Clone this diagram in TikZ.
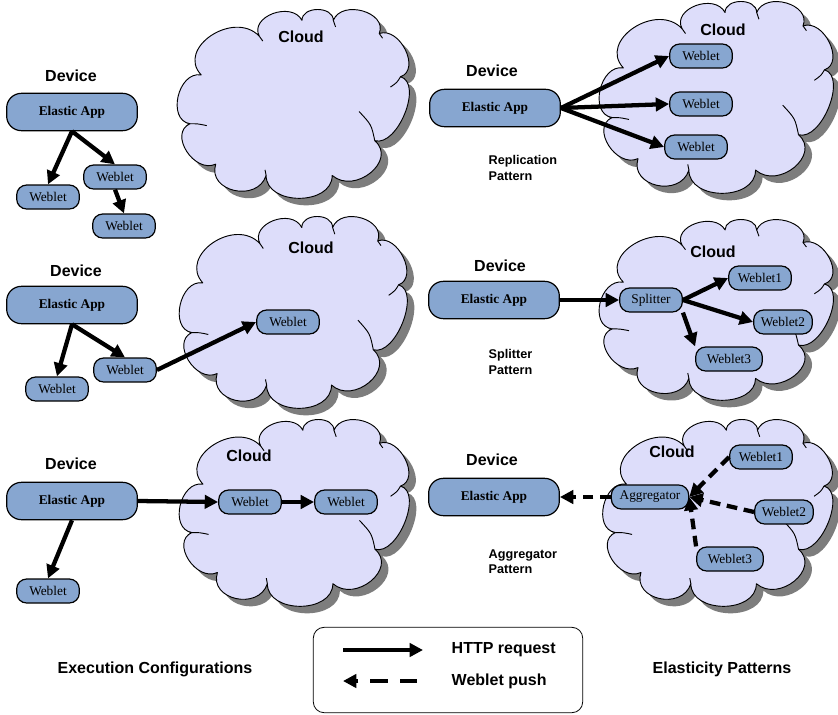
\documentclass[tikz,border=0pt]{standalone}
\usepackage{fontspec}
\setmainfont{Liberation Serif}
\setsansfont{Liberation Sans}
\usetikzlibrary{arrows.meta}

\definecolor{cloudfill}{RGB}{221,221,250}
\definecolor{cloudshade}{RGB}{125,125,125}
\definecolor{boxfill}{RGB}{135,166,208}

\tikzset{
  % outline of a cloud, in a box of about 200 x 200 units round its centre
  cloudpath/.style={insert path={
    (-82,-31)
    .. controls (-104.6,-59.6) and (-52.6,-100.6) .. (-30,-72)
    .. controls (-39.4,-92.9) and (-1.35,-109.9) .. (8,-89)
    .. controls (8,-104.4) and (36,-104.4) .. (36,-89)
    .. controls (43.7,-111.6) and (84.7,-97.6) .. (77,-75)
    .. controls (95.4,-82.6) and (114.4,-36.6) .. (96,-29)
    .. controls (116.4,-22.1) and (93.4,45.9) .. (73,39)
    .. controls (93.35,59.9) and (55.35,96.9) .. (35,76)
    .. controls (35,108.45) and (-24,108.45) .. (-24,76)
    .. controls (-31.8,105.25) and (-76.8,93.25) .. (-69,64)
    .. controls (-88.35,74.35) and (-111.35,31.35) .. (-92,21)
    .. controls (-112.8,17) and (-102.8,-35) .. (-82,-31) -- cycle}},
  cloudline/.style={draw=black, line width=0.7pt},
  app/.style={draw, line width=0.9pt, fill=boxfill, rounded corners=11pt,
    minimum width=98pt, minimum height=28pt, inner sep=0pt,
    font=\fontsize{10}{12}\selectfont\bfseries},
  weblet/.style={draw, line width=0.9pt, fill=boxfill, rounded corners=7.5pt,
    minimum width=47pt, minimum height=18pt, inner sep=0pt,
    font=\fontsize{10}{12}\selectfont},
  lbl/.style={font=\sffamily\bfseries\fontsize{12}{14}\selectfont},
  small/.style={font=\sffamily\bfseries\fontsize{9.5}{11.5}\selectfont, align=left, anchor=west},
  req/.style={line width=3.2pt, -{Triangle[length=10pt,width=10pt]}},
  push/.style={line width=3.2pt, dash pattern=on 8pt off 5pt, -{Triangle[length=10pt,width=10pt]}},
  legendpush/.style={push, dash pattern=on 13pt off 9pt},
}

% \drawcloud{centre x}{centre y}{x scale}{y scale}
\newcommand{\drawcloud}[4]{%
  \begin{scope}[shift={(#1,#2)}, shift={(7,7)}, xscale=#3, yscale=#4]
    \path[fill=cloudshade, cloudpath];
  \end{scope}
  \begin{scope}[shift={(#1,#2)}, xscale=#3, yscale=#4]
    \path[fill=cloudfill, cloudline, line join=round, cloudpath];
    \draw[cloudline] (-30,-72) -- (-27,-67);
    \draw[cloudline] (36,-89) -- (38,-82);
    \draw[cloudline] (77,-75) -- (80,-70);
    \draw[cloudline] (96,-29) .. controls (93,-23) .. (87,-18);
    \draw[cloudline] (73,39) .. controls (70,22) .. (59,8);
    \draw[cloudline] (-24,76) -- (-25,70);
    \draw[cloudline] (-92,21) .. controls (-85,21) .. (-77,23);
  \end{scope}}

\begin{document}
\begin{tikzpicture}[x=0.75pt,y=-0.75pt]
\useasboundingbox (0,0) rectangle (838,714);

% clouds
\drawcloud{293}{104}{1.12}{0.94}
\drawcloud{293}{312.5}{1.10}{0.955}
\drawcloud{294}{513}{1.11}{0.93}
\drawcloud{716}{97.5}{1.13}{0.955}
\drawcloud{716}{310}{1.13}{0.90}
\drawcloud{717.5}{513}{1.11}{0.93}

\node[lbl] (cl1) at (301,37) {Cloud};
\node[lbl] (cl2) at (311,248) {Cloud};
\node[lbl] (cl3) at (249,456) {Cloud};
\node[lbl] (cl4) at (723,30) {Cloud};
\node[lbl] (cl5) at (713,252) {Cloud};
\node[lbl] (cl6) at (672,452) {Cloud};

% execution configuration 1
\node[lbl] (dev1) at (71,76) {Device};
\node[app] (app1) at (72,112) {Elastic App};
\node[weblet] (w1a) at (48,197) {Weblet};
\node[weblet] (w1b) at (115,177) {Weblet};
\node[weblet] (w1c) at (124,226) {Weblet};
\draw[req] (app1.south) -- (w1a.north);
\draw[req] (app1.south) -- (w1b.north);
\draw[req] (w1b.south) -- (w1c.north);

% execution configuration 2
\node[lbl] (dev2) at (76,271) {Device};
\node[app] (app2) at (72,305) {Elastic App};
\node[weblet] (w2a) at (57,389) {Weblet};
\node[weblet] (w2b) at (125,370) {Weblet};
\node[weblet] (w2c) at (288,322) {Weblet};
\draw[req] (app2.south) -- (w2a.north);
\draw[req] (app2.south) -- (w2b.north);
\draw[req] (w2b.east) -- (w2c.west);

% execution configuration 3
\node[lbl] (dev3) at (71,464) {Device};
\node[app] (app3) at (72,501) {Elastic App};
\node[weblet] (w3a) at (48,591) {Weblet};
\node[weblet] (w3b) at (250,502) {Weblet};
\node[weblet] (w3c) at (346,502) {Weblet};
\draw[req] (app3.south) -- (w3a.north);
\draw[req] (app3.east) -- (w3b.west);
\draw[req] (w3b.east) -- (w3c.west);

% replication pattern
\node[lbl] (dev4) at (492,71) {Device};
\node[app] (app4) at (495,108) {Elastic App};
\node[small] (pat4) at (484,168) {Replication\\Pattern};
\node[weblet] (w4a) at (701,56) {Weblet};
\node[weblet] (w4b) at (701,104) {Weblet};
\node[weblet] (w4c) at (696,147) {Weblet};
\draw[req] (app4.east) -- (w4a.west);
\draw[req] (app4.east) -- (w4b.west);
\draw[req] (app4.east) -- (w4c.west);

% splitter pattern
\node[lbl] (dev5) at (500,266) {Device};
\node[app] (app5) at (494,300) {Elastic App};
\node[small] (pat5) at (484,362) {Splitter\\Pattern};
\node[weblet] (spl) at (651,300) {Splitter};
\node[weblet] (w5a) at (760,278) {Weblet1};
\node[weblet, minimum width=44pt] (w5b) at (783,322) {Weblet2};
\node[weblet, minimum width=50pt] (w5c) at (729,359) {Weblet3};
\draw[req] (app5.east) -- (spl.west);
\draw[req] (spl.east) -- (w5a.west);
\draw[req] (spl.east) -- (w5b.west);
\draw[req] (spl.south east) -- (w5c.north west);

% aggregator pattern
\node[lbl] (dev6) at (492,460) {Device};
\node[app] (app6) at (494,497) {Elastic App};
\node[small] (pat6) at (484,562) {Aggregator\\Pattern};
\node[weblet, minimum width=58pt] (agg) at (650,497) {Aggregator};
\node[weblet] (w6a) at (761,457) {Weblet1};
\node[weblet, minimum width=44pt] (w6b) at (784,512) {Weblet2};
\node[weblet, minimum width=50pt] (w6c) at (730,559) {Weblet3};
\draw[push] (agg.west) -- (app6.east);
\draw[push] (w6a.west) -- (agg.east);
\draw[push] (w6b.west) -- (agg.east);
\draw[push] (w6c.north west) -- (agg.east);

% legend
\node[draw, line width=0.6pt, rounded corners=8pt, minimum width=202pt,
  minimum height=64pt, inner sep=0pt] (legend) at (448,670) {};
\coordinate (l1s) at (343,650);
\coordinate (l1e) at (423,650);
\coordinate (l2s) at (417,681);
\coordinate (l2e) at (343,681);
\draw[req] (l1s) -- (l1e);
\draw[legendpush] (l2s) -- (l2e);
\node[lbl, anchor=west] (t1) at (447,650) {HTTP request};
\node[lbl, anchor=west] (t2) at (447,681) {Weblet push};

\node[lbl] (exec) at (155,669) {Execution Configurations};
\node[lbl] (elas) at (722,669) {Elasticity Patterns};
\end{tikzpicture}
\end{document}
